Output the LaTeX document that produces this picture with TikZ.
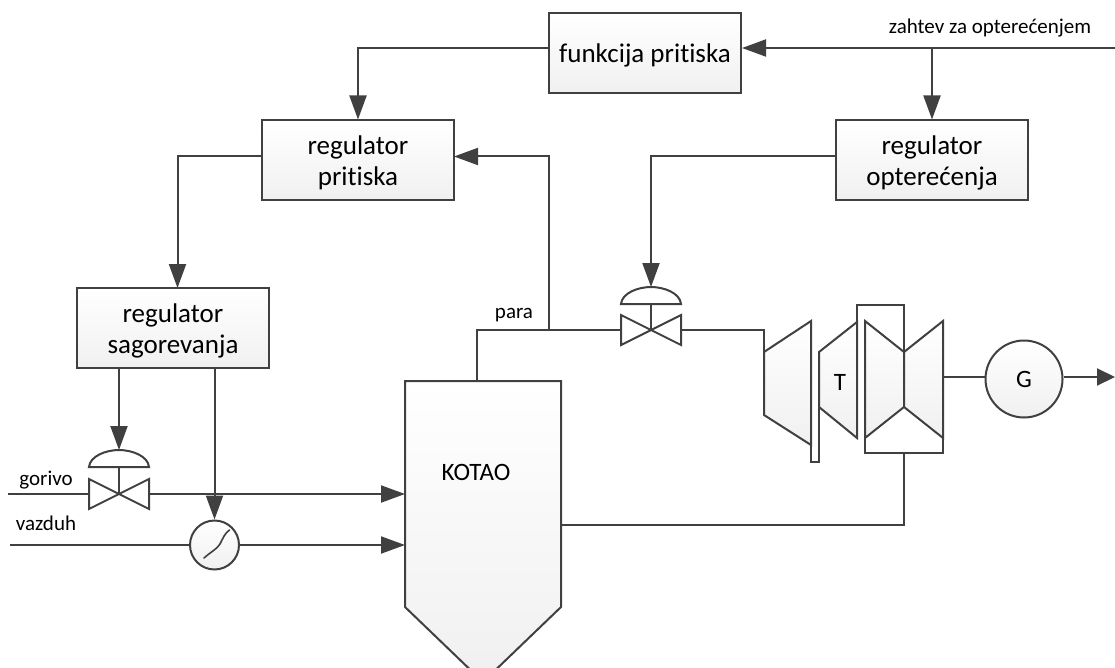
\documentclass[tikz,border=0pt]{standalone}
\usepackage{fontspec}
\setmainfont[Ligatures=NoCommon]{Carlito}
\usetikzlibrary{arrows.meta}
\definecolor{ink}{HTML}{404040}
\definecolor{shadeend}{HTML}{F0F0F0}
\newcommand{\lowered}[1]{\raisebox{-2.5pt}[\height][\depth]{#1}}
\tikzset{
  x=1pt,y=-1pt,
  line/.style={draw=ink,line width=2pt},
  conn/.style={line,-{Triangle[length=24pt,width=17pt,fill=ink]}},
  ctrl/.style={line,top color=white,bottom color=shadeend,minimum width=192pt,minimum height=80pt,inner sep=0pt,align=center,font=\fontsize{27}{31}\selectfont},
  body/.style={line,line join=miter,top color=white,bottom color=shadeend},
  label/.style={inner sep=0pt,font=\fontsize{21}{25}\selectfont,text=black},
  big/.style={inner sep=0pt,font=\fontsize{25}{30}\selectfont,text=black},
}
\begin{document}
\begin{tikzpicture}
\useasboundingbox (0,0) rectangle (1115,668);
% control boxes
\node[ctrl] (fp) at (645,53) {\lowered{funkcija pritiska}};
\node[ctrl] (rp) at (358,160.5) {\lowered{regulator}\\\lowered{pritiska}};
\node[ctrl] (ro) at (932,160.5) {\lowered{regulator}\\\lowered{opterećenja}};
\node[ctrl] (rs) at (173,328) {\lowered{regulator}\\\lowered{sagorevanja}};
% boiler
\coordinate (bTL) at (405,381);
\coordinate (bTR) at (561,381);
\coordinate (bBR) at (561,607);
\coordinate (bBL) at (405,607);
\coordinate (bApex) at (483,682);
\begin{scope}
\clip (0,0) rectangle (1115,668);
\draw[body] (bTL) -- (bTR) -- (bBR) -- (bApex) -- (bBL) -- cycle;
\end{scope}
\node[big] (kotao) at (476,472) {KOTAO};
\coordinate (bSteam) at (477,381);
\coordinate (bFuel) at (405,494);
\coordinate (bAir) at (405,545);
\coordinate (bOut) at (561,525);
% fuel valve
\coordinate (vf) at (119,494);
\coordinate (vfL) at (89,494);
\coordinate (vfR) at (149,494);
\coordinate (vfD) at (119,467);
\coordinate (vfTop) at (119,450);
\draw[line,line join=miter] (89,479) -- (149,509) -- (149,479) -- (89,509) -- cycle;
\draw[line] (vfD) -- (vf);
\draw[line,line join=miter,fill=white] (89,467) .. controls (90,456) and (106,450) .. (vfTop) .. controls (132,450) and (148,456) .. (149,467) -- cycle;
% steam valve
\coordinate (vs) at (651,330);
\coordinate (vsL) at (621,330);
\coordinate (vsR) at (681,330);
\coordinate (vsD) at (651,304);
\coordinate (vsTop) at (651,287);
\draw[line,line join=miter] (621,315) -- (681,345) -- (681,315) -- (621,345) -- cycle;
\draw[line] (vsD) -- (vs);
\draw[line,line join=miter,fill=white] (621,304) .. controls (622,293) and (638,287) .. (vsTop) .. controls (664,287) and (680,293) .. (681,304) -- cycle;
% air damper
\node[line,circle,top color=white,bottom color=shadeend,minimum size=49pt,inner sep=0pt] (dm) at (214.5,545) {};
\draw[draw=ink,line width=1.6pt,line cap=round] (204,558) .. controls (212,551) and (217,549) .. (220,544) .. controls (223,538) and (225,533) .. (229.5,530);
% turbine
\draw[line,line join=miter] (857,322) -- (857,305) -- (904,305) -- (904,352);
\draw[line,line join=miter] (811,445) -- (811,462) -- (819,462) -- (819,407);
\draw[line,line join=miter] (865,438) -- (865,453) -- (943,453) -- (943,438);
\draw[body] (764,352) -- (811,321) -- (811,445) -- (764,415) -- cycle;
\draw[body] (819,352) -- (857,322) -- (857,438) -- (819,407) -- cycle;
\draw[body] (865,321) -- (904,352) -- (904,407) -- (865,438) -- cycle;
\draw[body] (943,321) -- (904,352) -- (904,407) -- (943,438) -- cycle;
\node[big] (t) at (840,382) {T};
\coordinate (tIn) at (764,352);
\coordinate (tShaft) at (943,377);
\coordinate (tRet) at (904,453);
\node[line,circle,top color=white,bottom color=shadeend,minimum size=77pt,inner sep=0pt,font=\fontsize{25}{30}\selectfont] (g) at (1024,379) {G};
% free ends and junctions
\coordinate (inDemand) at (1115,48);
\coordinate (jDemand) at (932,48);
\coordinate (jSteam) at (549,330);
\coordinate (rpIn) at (454,156.5);
\coordinate (rpOut) at (262,156.5);
\coordinate (roOut) at (836,156.5);
\coordinate (rsIn) at (177.5,288);
\coordinate (rsFuel) at (119,368);
\coordinate (rsAir) at (214.5,368);
\coordinate (inFuel) at (8,494);
\coordinate (inAir) at (10,545);
\coordinate (outG) at (1115,377);
% connectors
\draw[conn] (inDemand) -- (fp.east |- inDemand);
\draw[conn] (jDemand) -- (ro.north);
\draw[conn] (fp.west |- inDemand) -| (rp.north);
\draw[conn] (jSteam) |- (rpIn);
\draw[conn] (rpOut) -| (rsIn);
\draw[conn] (roOut) -| (vsTop);
\draw[conn] (rsFuel) -- (vfTop);
\draw[conn] (rsAir) -- (dm.north);
\draw[line,line join=miter] (bSteam) |- (vsL);
\draw[line,line join=miter] (vsR) -| (tIn);
\draw[line] (inFuel) -- (vfL);
\draw[conn] (vfR) -- (bFuel);
\draw[line] (inAir) -- (dm.west);
\draw[conn] (dm.east) -- (bAir);
\draw[line,line join=miter] (bOut) -| (tRet);
\draw[line] (tShaft) -- (g.west |- tShaft);
\draw[line,-{Triangle[length=18pt,width=17pt,fill=ink]}] (g.east |- tShaft) -- (outG);
% labels
\node[label] (lz) at (990,28) {zahtev za opterećenjem};
\node[label] (lp) at (514,315) {para};
\node[label] (lg) at (46,480) {gorivo};
\node[label] (lv) at (46,523) {vazduh};
\end{tikzpicture}
\end{document}
